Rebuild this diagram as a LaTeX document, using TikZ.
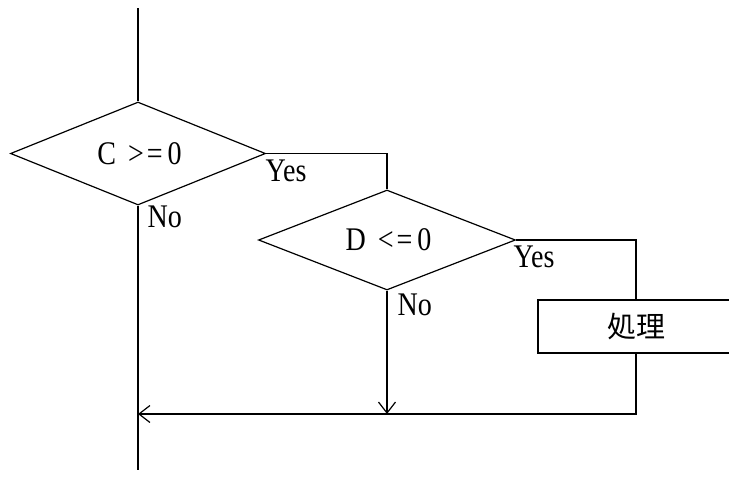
\documentclass[tikz,border=0pt]{standalone}
\usepackage{fontspec}
\setmainfont{Liberation Serif}[FakeStretch=0.85]
\newfontfamily\cjk{Noto Sans CJK JP}
\usetikzlibrary{shapes.geometric,arrows.meta}
\begin{document}
\begin{tikzpicture}[x=1pt,y=-1pt, line width=1.2pt,
  every node/.style={font=\fontsize{33}{38}\selectfont},
  every label/.style={inner sep=0pt},
  decision/.style={draw, diamond, inner sep=0pt},
  procbox/.style={draw, rectangle, inner sep=0pt, font=\cjk\fontsize{29}{33}\selectfont},
  lbl/.style={anchor=base west, inner sep=0pt},
  flow/.style={-{Straight Barb[length=11pt,width=17pt]}}]
\clip (0,0) rectangle (729,477);
\fill[white] (0,0) rectangle (729,477);

\node[decision, minimum width=255pt, minimum height=103pt,
  label={center:\hspace{3pt}C\hspace{12pt}>\hspace{3pt}=\hspace{5pt}0}] (c) at (138,153.5) {};
\node[decision, minimum width=257pt, minimum height=100pt,
  label={center:\hspace{3pt}D\hspace{12pt}<\hspace{3pt}=\hspace{5pt}0}] (d) at (387,240) {};
\node[procbox, minimum width=196pt, minimum height=53pt] (p) at (636,326.5) {処理};

\coordinate (top) at (138,8);
\coordinate (bot) at (138,470);
\coordinate (join) at (138,414);
\coordinate (pj) at (636,414);
\coordinate (dj) at (387,414);

\draw (top) -- (c.north);
\draw (c.east) -- (c.east -| d.north) -- (d.north);
\draw (d.east) -- (d.east -| p.north) -- (p.north);
\draw (c.south) -- (bot);
\draw[flow] (p.south) -- (pj) -- (join);
\draw[flow] (d.south) -- (dj);

\node[lbl] (cy) at (265,181) {Yes};
\node[lbl] (cn) at (147,227) {No};
\node[lbl] (dy) at (513,267) {Yes};
\node[lbl] (dn) at (397,315) {No};
\end{tikzpicture}
\end{document}
